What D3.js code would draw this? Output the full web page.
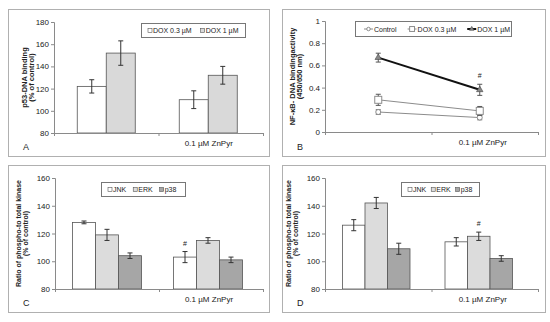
<!DOCTYPE html>
<html>
<head>
<meta charset="utf-8">
<script src="https://cdn.jsdelivr.net/npm/d3@7"></script>
<style>
  body { margin: 0; background: #fff; }
  text { font-family: "Liberation Sans", Arial, sans-serif; fill: #222; }
</style>
</head>
<body>
<svg id="fig" width="550" height="322"></svg>
<script>
// category labels shared by all panels
var groups = ["", "0.1 µM ZnPyr"]

// panel A - p53 DNA binding
var seriesA = ["DOX 0.3 µM", "DOX 1 µM"]
var valuesA = [[122, 110], [152, 132]]
var errorsA = [[6, 8], [11, 8]]
var ticksA = [80, 100, 120, 140, 160, 180]

// panel B - NF-kB binding
var seriesB = ["Control", "DOX 0.3 µM", "DOX 1 µM"]
var valuesB = [[0.18, 0.13], [0.29, 0.19], [0.67, 0.38]]
var errorsB = [[0.02, 0.02], [0.05, 0.04], [0.04, 0.05]]
var ticksB = [0, 0.2, 0.4, 0.6, 0.8, 1]

// panels C and D - kinases
var seriesK = ["JNK", "ERK", "p38"]
var valuesC = [[128, 103], [119, 115], [104, 101]]
var errorsC = [[1, 4], [4, 2], [2, 2]]
var valuesD = [[126, 114], [142, 118], [109, 102]]
var errorsD = [[4, 3], [4, 3], [4, 2]]
var ticksK = [80, 100, 120, 140, 160]

var svg = d3.select("#fig")
var axisCol = "#8a8a8a"

function panelBox(x, y, w, h, letter) {
  svg.append("rect")
    .attr("x", x + 0.5).attr("y", y + 0.5)
    .attr("width", w).attr("height", h)
    .attr("fill", "#fff").attr("stroke", "#b0b0b0")
  svg.append("text")
    .attr("x", x + 15).attr("y", y + h - 6)
    .style("font-size", "9px")
    .text(letter)
}

// y axis, x axis line with tick marks at category borders, rotated title
function drawAxes(g, x, y, title, ticks, fmt) {
  var yAxis = d3.axisLeft(y).tickValues(ticks).tickSize(3).tickFormat(fmt)
  var ya = g.append("g").attr("transform", "translate(" + x.range()[0] + ",0)").call(yAxis)
  ya.select(".domain").attr("stroke", axisCol)
  ya.selectAll(".tick line").attr("stroke", axisCol)
  ya.selectAll(".tick text").attr("x", -5).style("font-size", "8px")
    .style("font-family", "Liberation Sans, Arial, sans-serif").attr("fill", "#222")

  var bx = d3.scaleLinear().domain([0, 2]).range(x.range())
  var xa = g.append("g").attr("transform", "translate(0," + y.range()[0] + ")")
    .call(d3.axisBottom(bx).tickValues([0, 1, 2]).tickSize(3).tickFormat(""))
  xa.select(".domain").attr("stroke", axisCol)
  xa.selectAll(".tick line").attr("stroke", axisCol)

  g.selectAll(".catLabel")
    .data(groups)
    .enter().append("text")
    .attr("class", "catLabel")
    .attr("x", function(d) { return x(d) + x.bandwidth() / 2 - 2 })
    .attr("y", y.range()[0] + 13)
    .attr("text-anchor", "middle")
    .style("font-size", "8px")
    .text(function(d) { return d })

  var cy = (y.range()[0] + y.range()[1]) / 2
  var tx = x.range()[0] - title.offset
  var t = g.append("text")
    .attr("transform", "translate(" + tx + "," + cy + ") rotate(-90)")
    .attr("text-anchor", "middle")
    .style("font-size", title.size + "px")
    .style("font-weight", "bold")
  title.lines.forEach(function(line, i) {
    t.append("tspan").attr("x", 0).attr("dy", i === 0 ? 0 : title.size * 0.95).text(line)
  })
}

function errorBar(g, cx, y, v, e, col) {
  var w = 2.5
  g.append("line").attr("x1", cx).attr("x2", cx)
    .attr("y1", y(v - e)).attr("y2", y(v + e)).attr("stroke", col)
  g.append("line").attr("x1", cx - w).attr("x2", cx + w)
    .attr("y1", y(v - e)).attr("y2", y(v - e)).attr("stroke", col)
  g.append("line").attr("x1", cx - w).attr("x2", cx + w)
    .attr("y1", y(v + e)).attr("y2", y(v + e)).attr("stroke", col)
}

function drawBars(opt) {
  var g = svg.append("g")
  var x = d3.scaleBand().domain(groups).range(opt.xr)
  var y = d3.scaleLinear().domain(d3.extent(opt.ticks)).range(opt.yr)
  var bw = opt.barW
  var n = opt.series.length

  opt.series.forEach(function(s, si) {
    g.selectAll(".bar" + si)
      .data(opt.values[si])
      .enter().append("rect")
      .attr("x", function(d, gi) { return x(groups[gi]) + x.bandwidth() / 2 - n * bw / 2 + si * bw + opt.shift[gi] })
      .attr("y", function(d) { return y(d) })
      .attr("width", bw)
      .attr("height", function(d) { return y.range()[0] - y(d) })
      .attr("fill", opt.colors[si])
      .attr("stroke", "#555")
      .attr("stroke-width", 0.8)
    opt.values[si].forEach(function(v, gi) {
      var cx = x(groups[gi]) + x.bandwidth() / 2 - n * bw / 2 + (si + 0.5) * bw + opt.shift[gi]
      errorBar(g, cx, y, v, opt.errors[si][gi], "#333")
      if (opt.hash && opt.hash[0] === si && opt.hash[1] === gi) {
        g.append("text").attr("x", cx).attr("y", y(v + opt.errors[si][gi]) - 6)
          .attr("text-anchor", "middle").style("font-size", "7px").text("#")
      }
    })
  })

  drawAxes(g, x, y, opt.title, opt.ticks, d3.format("d"))

  // legend
  var lg = g.append("g").attr("transform", "translate(" + opt.legend[0] + "," + opt.legend[1] + ")")
  lg.append("rect").attr("x", 0.5).attr("y", 0.5).attr("width", opt.legend[2]).attr("height", 14)
    .attr("fill", "#fff").attr("stroke", "#777")
  var lx = 7
  opt.series.forEach(function(s, si) {
    lg.append("rect").attr("x", lx).attr("y", 5.5).attr("width", 4).attr("height", 4)
      .attr("fill", opt.colors[si]).attr("stroke", "#555").attr("stroke-width", 0.6)
    var t = lg.append("text").attr("x", lx + 5).attr("y", 10).style("font-size", "7px").text(s)
    lx += 5 + t.node().getComputedTextLength() + opt.legendGap
  })
}

// panel frames
panelBox(8, 9, 261, 147, "A")
panelBox(282, 9, 263, 147, "B")
panelBox(8, 165, 261, 147, "C")
panelBox(282, 165, 263, 147, "D")

drawBars({
  series: seriesA, values: valuesA, errors: errorsA, ticks: ticksA,
  xr: [54, 263], yr: [133, 22], barW: 29, shift: [0, -2.5],
  colors: ["#ffffff", "#d9d9d9"],
  title: { lines: ["p53-DNA binding", "(% of control)"], offset: 27, size: 7.5 },
  legend: [141, 23, 104], legendGap: 9
})

drawBars({
  series: seriesK, values: valuesC, errors: errorsC, ticks: ticksK,
  xr: [55, 263], yr: [289, 178], barW: 23, shift: [0, -3], hash: [0, 1],
  colors: ["#ffffff", "#dcdcdc", "#a6a6a6"],
  title: { lines: ["Ratio of phospho-to total kinase", "(% of control)"], offset: 34, size: 7 },
  legend: [101, 182, 84], legendGap: 7
})

drawBars({
  series: seriesK, values: valuesD, errors: errorsD, ticks: ticksK,
  xr: [325, 538], yr: [289, 178], barW: 22.5, shift: [-2, -6], hash: [1, 1],
  colors: ["#ffffff", "#dcdcdc", "#a6a6a6"],
  title: { lines: ["Ratio of phospho-to total kinase", "(% of control)"], offset: 34, size: 7 },
  legend: [401, 182, 78], legendGap: 5
})

// panel B - line chart
function drawLines() {
  var g = svg.append("g")
  var x = d3.scaleBand().domain(groups).range([325, 538])
  var y = d3.scaleLinear().domain([0, 1]).range([132, 21])
  var styles = [
    { stroke: "#8c8c8c", width: 1, marker: "circle" },
    { stroke: "#8c8c8c", width: 1, marker: "square" },
    { stroke: "#111", width: 2, marker: "triangle" }
  ]
  var px = function(gi) { return x(groups[gi]) + x.bandwidth() / 2 - gi * 5 }
  var line = d3.line().x(function(d, gi) { return px(gi) }).y(function(d) { return y(d) })

  function marker(sel, kind, cx, cy, st, sc) {
    sc = sc || 1
    if (kind === "circle") {
      sel.append("circle").attr("cx", cx).attr("cy", cy).attr("r", 2.5 * sc)
        .attr("fill", "#fff").attr("stroke", st.stroke)
    } else if (kind === "square") {
      sel.append("rect").attr("x", cx - 3.5 * sc).attr("y", cy - 3.5 * sc)
        .attr("width", 7 * sc).attr("height", 7 * sc)
        .attr("fill", "#fff").attr("stroke", st.stroke)
    } else {
      sel.append("path").attr("d", d3.symbol(d3.symbolTriangle, 18 * sc * sc)())
        .attr("transform", "translate(" + cx + "," + cy + ")")
        .attr("fill", "#888").attr("stroke", "#444").attr("stroke-width", 0.6)
    }
  }

  seriesB.forEach(function(s, si) {
    var st = styles[si]
    g.append("path").datum(valuesB[si]).attr("d", line)
      .attr("fill", "none").attr("stroke", st.stroke).attr("stroke-width", st.width)
    valuesB[si].forEach(function(v, gi) {
      errorBar(g, px(gi), y, v, errorsB[si][gi], "#555")
      marker(g, st.marker, px(gi), y(v), st)
    })
  })
  g.append("text").attr("x", px(1)).attr("y", y(valuesB[2][1] + errorsB[2][1]) - 6)
    .attr("text-anchor", "middle").style("font-size", "7px").text("#")

  drawAxes(g, x, y, { lines: ["NF-κB- DNA bindingactivity", "(450/650 nm)"], offset: 30, size: 7.5 },
    ticksB, function(d) { return d === 0 || d === 1 ? d : d3.format(".1f")(d) })

  // legend
  var lg = g.append("g").attr("transform", "translate(355,21)")
  lg.append("rect").attr("x", 0.5).attr("y", 0.5).attr("width", 156).attr("height", 15)
    .attr("fill", "#fff").attr("stroke", "#777")
  var lx = 9
  seriesB.forEach(function(s, si) {
    var st = styles[si]
    lg.append("line").attr("x1", lx).attr("x2", lx + 9).attr("y1", 8).attr("y2", 8)
      .attr("stroke", st.stroke).attr("stroke-width", st.width)
    marker(lg, st.marker, lx + 4.5, 8, { stroke: st.stroke }, 0.7)
    var t = lg.append("text").attr("x", lx + 10).attr("y", 10.5).style("font-size", "7px").text(s)
    lx += 10 + t.node().getComputedTextLength() + 11
  })
}
drawLines()
</script>
</body>
</html>
